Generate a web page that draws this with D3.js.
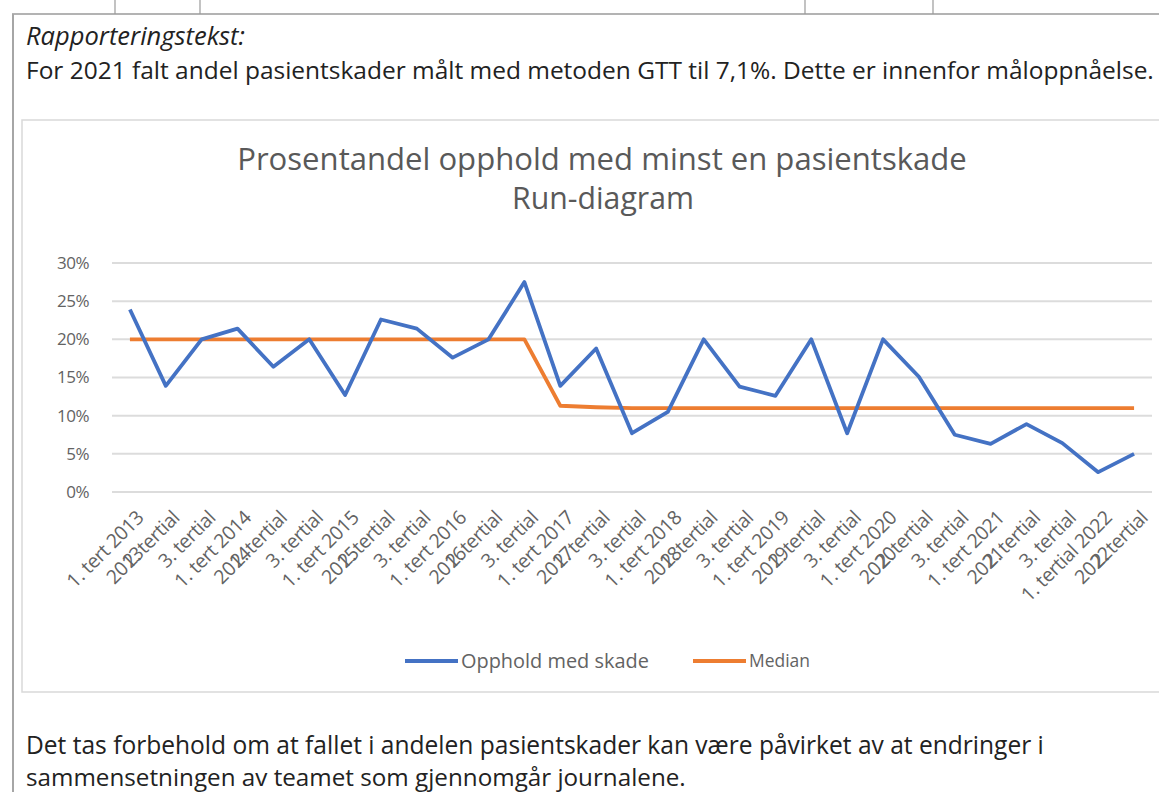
<!DOCTYPE html>
<html>
<head>
<meta charset="utf-8">
<script src="https://cdn.jsdelivr.net/npm/d3@7"></script>
<style>
  body { margin: 0; background: #fff; }
  svg { display: block; }
</style>
</head>
<body>
<div id="chart"></div>
<script>
// categories (tertials) along the x axis
const categories = [
  "1. tert 2013", "2. tertial", "3. tertial",
  "1. tert 2014", "2. tertial", "3. tertial",
  "1. tert 2015", "2. tertial", "3. tertial",
  "1. tert 2016", "2. tertial", "3. tertial",
  "1. tert 2017", "2. tertial", "3. tertial",
  "1. tert 2018", "2. tertial", "3. tertial",
  "1. tert 2019", "2. tertial", "3. tertial",
  "1. tert 2020", "2. tertial", "3. tertial",
  "1. tert 2021", "2. tertial", "3. tertial",
  "1. tertial 2022", "2. tertial"
];
// year printed on top of the "2. tertial" labels (they overlap in the original)
const overlapYears = [
  "", "2013", "", "", "2014", "", "", "2015", "", "", "2016", "",
  "", "2017", "", "", "2018", "", "", "2019", "", "", "2020", "",
  "", "2021", "", "", "2022"
];
// share of stays with at least one patient injury, percent
const opphold = [
  23.9, 13.9, 20.0, 21.4, 16.4, 20.0, 12.7, 22.6, 21.4, 17.6, 20.0, 27.5,
  13.9, 18.8, 7.7, 10.5, 20.0, 13.8, 12.6, 20.0, 7.7, 20.0, 15.1, 7.5,
  6.3, 8.9, 6.4, 2.6, 5.0
];
const median = [
  20, 20, 20, 20, 20, 20, 20, 20, 20, 20, 20, 20,
  11.3, 11.1, 11.0, 11.0, 11.0, 11.0, 11.0, 11.0, 11.0, 11.0, 11.0, 11.0,
  11.0, 11.0, 11.0, 11.0, 11.0
];
const yTicks = [0, 5, 10, 15, 20, 25, 30];

const width = 1159, height = 792;
const chartFont = "'Open Sans', 'DejaVu Sans', sans-serif";
const textColor = "#636363";

const svg = d3.select("#chart").append("svg")
  .attr("width", width)
  .attr("height", height);

// set font size so that the text gets the wanted width
function fit(sel, target) {
  const size = parseFloat(sel.attr("font-size"));
  const w = sel.node().getComputedTextLength();
  sel.attr("font-size", size * target / w);
  return sel;
}

// document frame: table line on top and left margin line
svg.append("line")
  .attr("x1", 12).attr("x2", width).attr("y1", 14).attr("y2", 14)
  .attr("stroke", "#9a9a9a").attr("stroke-width", 1.5);
[115, 200, 805, 933].forEach(x => {
  svg.append("line")
    .attr("x1", x).attr("x2", x).attr("y1", 0).attr("y2", 14)
    .attr("stroke", "#9a9a9a").attr("stroke-width", 1.2);
});
svg.append("line")
  .attr("x1", 13).attr("x2", 13).attr("y1", 14).attr("y2", height)
  .attr("stroke", "#a6a6a6").attr("stroke-width", 2);

// report text
const docFont = "'Open Sans', 'DejaVu Sans', sans-serif";
fit(svg.append("text")
  .attr("x", 26).attr("y", 45)
  .attr("font-family", docFont).attr("font-style", "italic")
  .attr("font-size", 19).attr("fill", "#222")
  .text("Rapporteringstekst:"), 219);
fit(svg.append("text")
  .attr("x", 26).attr("y", 79)
  .attr("font-family", docFont)
  .attr("font-size", 19).attr("fill", "#222")
  .text("For 2021 falt andel pasientskader målt med metoden GTT til 7,1%. Dette er innenfor måloppnåelse."), 1128);
fit(svg.append("text")
  .attr("x", 26).attr("y", 754)
  .attr("font-family", docFont)
  .attr("font-size", 19).attr("fill", "#222")
  .text("Det tas forbehold om at fallet i andelen pasientskader kan være påvirket av at endringer i"), 1018);
fit(svg.append("text")
  .attr("x", 26).attr("y", 786)
  .attr("font-family", docFont)
  .attr("font-size", 19).attr("fill", "#222")
  .text("sammensetningen av teamet som gjennomgår journalene."), 660);

// chart area box
svg.append("rect")
  .attr("x", 22).attr("y", 120)
  .attr("width", width - 22 + 5).attr("height", 572)
  .attr("fill", "#fff").attr("stroke", "#d9d9d9").attr("stroke-width", 1.5);

// title
fit(svg.append("text")
  .attr("x", 602).attr("y", 170)
  .attr("text-anchor", "middle")
  .attr("font-family", chartFont).attr("font-size", 26)
  .attr("fill", "#595959")
  .text("Prosentandel opphold med minst en pasientskade"), 730);
fit(svg.append("text")
  .attr("x", 603).attr("y", 209)
  .attr("text-anchor", "middle")
  .attr("font-family", chartFont).attr("font-size", 26)
  .attr("fill", "#595959")
  .text("Run-diagram"), 182);

// scales
const x = d3.scaleBand()
  .domain(d3.range(categories.length))
  .range([112, 1152]);
const y = d3.scaleLinear()
  .domain([0, 30])
  .range([492, 263]);
const cx = i => x(i) + x.bandwidth() / 2;

// gridlines
svg.append("g")
  .selectAll("line")
  .data(yTicks)
  .join("line")
  .attr("x1", 112).attr("x2", 1152)
  .attr("y1", d => y(d)).attr("y2", d => y(d))
  .attr("stroke", "#dcdcdc").attr("stroke-width", 2);

// y axis labels
const yAxis = svg.append("g")
  .attr("transform", "translate(89,0)")
  .call(d3.axisLeft(y).tickValues(yTicks).tickSize(0).tickPadding(0)
    .tickFormat(d => d + "%"));
yAxis.select(".domain").remove();
yAxis.selectAll("text")
  .attr("font-family", chartFont).attr("font-size", 17)
  .attr("letter-spacing", "-0.5px")
  .attr("fill", textColor);

// x axis labels, rotated
const labelSize = 19.5;
const xLabels = svg.append("g")
  .selectAll("g")
  .data(categories)
  .join("g")
  .attr("transform", (d, i) => `translate(${cx(i) + 5},${509}) rotate(-45)`);
xLabels.append("text")
  .attr("class", "cat")
  .attr("text-anchor", "end")
  .attr("dy", "0.72em")
  .attr("font-family", chartFont).attr("font-size", labelSize)
  .attr("letter-spacing", "-0.4px")
  .attr("fill", textColor)
  .text(d => d);
xLabels.each(function(d, i) {
  if (!overlapYears[i]) return;
  const g = d3.select(this);
  const t = g.select("text.cat");
  const rest = t.node().getSubStringLength(3, d.length - 3);
  g.append("text")
    .attr("text-anchor", "end")
    .attr("x", -rest)
    .attr("dy", "0.72em")
    .attr("font-family", chartFont).attr("font-size", labelSize)
    .attr("letter-spacing", "-0.4px")
    .attr("fill", textColor)
    .text(overlapYears[i]);
});

// lines
const line = d3.line()
  .x((d, i) => cx(i))
  .y(d => y(d));
svg.append("path")
  .datum(median)
  .attr("fill", "none")
  .attr("stroke", "#ED7D31")
  .attr("stroke-width", 3.8)
  .attr("stroke-linejoin", "round")
  .attr("d", line);
svg.append("path")
  .datum(opphold)
  .attr("fill", "none")
  .attr("stroke", "#4472C4")
  .attr("stroke-width", 3.8)
  .attr("stroke-linejoin", "round")
  .attr("d", line);

// legend
const legend = [
  { name: "Opphold med skade", color: "#4472C4", x: 405, w: 188 },
  { name: "Median", color: "#ED7D31", x: 693, w: 61 }
];
const lg = svg.append("g")
  .selectAll("g")
  .data(legend)
  .join("g")
  .attr("transform", d => `translate(${d.x},661)`);
lg.append("line")
  .attr("x1", 0).attr("x2", 53)
  .attr("stroke", d => d.color).attr("stroke-width", 3.8);
lg.append("text")
  .attr("x", 56).attr("dy", "0.35em")
  .attr("font-family", chartFont).attr("font-size", 15)
  .attr("fill", textColor)
  .text(d => d.name)
  .each(function(d) { fit(d3.select(this), d.w); });
</script>
</body>
</html>
